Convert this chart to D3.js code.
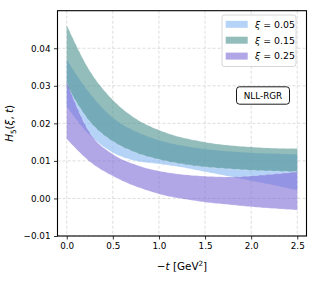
<!DOCTYPE html>
<html>
<head>
<meta charset="utf-8">
<script src="https://cdn.jsdelivr.net/npm/d3@7"></script>
<style>
  body { margin: 0; background: #fff; }
  svg { display: block; font-family: "DejaVu Sans", sans-serif; }
</style>
</head>
<body>
<div id="chart"></div>
<script>
const tValues = [0, 0.25, 0.5, 0.75, 1.0, 1.25, 1.5, 1.75, 2.0, 2.25, 2.5];

// xi = 0.05
const xi005Upper = [0.0370, 0.0280, 0.0215, 0.0178, 0.0155, 0.0141, 0.0132, 0.0126, 0.0122, 0.0120, 0.0118];
const xi005Lower = [0.0245, 0.0168, 0.0122, 0.0100, 0.0092, 0.0083, 0.0071, 0.0059, 0.0047, 0.0035, 0.0022];
// xi = 0.15
const xi015Upper = [0.0462, 0.0340, 0.0262, 0.0212, 0.0182, 0.0162, 0.0150, 0.0142, 0.0137, 0.0134, 0.0133];
const xi015Lower = [0.0300, 0.0205, 0.0152, 0.0122, 0.0104, 0.0092, 0.0084, 0.0079, 0.0075, 0.0073, 0.0071];
// xi = 0.25
const xi025Upper = [0.0310, 0.0175, 0.0118, 0.0090, 0.0073, 0.0064, 0.0059, 0.0057, 0.0060, 0.0065, 0.0071];
const xi025Lower = [0.0158, 0.0098, 0.0060, 0.0032, 0.0012, -0.0001, -0.0010, -0.0016, -0.0022, -0.0027, -0.0031];

const seriesNames = ["ξ = 0.05", "ξ = 0.15", "ξ = 0.25"];
const xiLabels = ["0.05", "0.15", "0.25"];
const seriesColors = ["#84b6f2", "#4b918e", "#7d6ad6"];

const xTicks = [0.0, 0.5, 1.0, 1.5, 2.0, 2.5];
const yTicks = [-0.01, 0.00, 0.01, 0.02, 0.03, 0.04];

const W = 317, H = 282;
const margin = { top: 10.7, right: 10.5, bottom: 46, left: 57.5 };

const svg = d3.select("#chart").append("svg")
    .attr("width", W)
    .attr("height", H);

const x = d3.scaleLinear().domain([-0.1, 2.6]).range([margin.left, W - margin.right]);
const y = d3.scaleLinear().domain([-0.01, 0.05]).range([H - margin.bottom, margin.top]);

// grid
const grid = svg.append("g").attr("class", "grid");
grid.selectAll("line.gx").data(xTicks).join("line")
    .attr("class", "gx")
    .attr("x1", d => x(d)).attr("x2", d => x(d))
    .attr("y1", y.range()[1]).attr("y2", y.range()[0])
    .attr("stroke", "#d4d4d4").attr("stroke-width", 0.8)
    .attr("stroke-dasharray", "3,2");
grid.selectAll("line.gy").data(yTicks).join("line")
    .attr("class", "gy")
    .attr("y1", d => y(d)).attr("y2", d => y(d))
    .attr("x1", x.range()[0]).attr("x2", x.range()[1])
    .attr("stroke", "#d4d4d4").attr("stroke-width", 0.8)
    .attr("stroke-dasharray", "3,2");

// bands
const bands = [
    { upper: xi005Upper, lower: xi005Lower },
    { upper: xi015Upper, lower: xi015Lower },
    { upper: xi025Upper, lower: xi025Lower }
];

const area = d3.area()
    .curve(d3.curveMonotoneX)
    .x(d => x(d.t))
    .y0(d => y(d.lo))
    .y1(d => y(d.hi));

const edge = d3.line().curve(d3.curveMonotoneX).x(d => x(d.t)).y(d => y(d.v));

bands.forEach((b, i) => {
    const pts = tValues.map((t, k) => ({ t: t, hi: b.upper[k], lo: b.lower[k] }));
    svg.append("path")
        .datum(pts)
        .attr("d", area)
        .attr("fill", seriesColors[i])
        .attr("fill-opacity", 0.6);
    // faint edge lines of the bands
    ["hi", "lo"].forEach(key => {
        svg.append("path")
            .datum(pts.map(p => ({ t: p.t, v: p[key] })))
            .attr("d", edge)
            .attr("fill", "none")
            .attr("stroke", "#ffffff")
            .attr("stroke-opacity", 0.35)
            .attr("stroke-width", 0.8)
            .attr("stroke-dasharray", "5,3");
    });
});

// axes
const xAxis = svg.append("g")
    .attr("transform", `translate(0,${H - margin.bottom})`)
    .call(d3.axisBottom(x).tickValues(xTicks).tickFormat(d3.format(".1f")).tickSize(3.5).tickPadding(3.5));
const yAxis = svg.append("g")
    .attr("transform", `translate(${margin.left},0)`)
    .call(d3.axisLeft(y).tickValues(yTicks).tickFormat(d => d < 0 ? "\u2212" + d3.format(".2f")(-d) : d3.format(".2f")(d)).tickSize(3.5).tickPadding(3.5));

[xAxis, yAxis].forEach(a => {
    a.select(".domain").remove();
    a.selectAll(".tick line").attr("stroke", "#000").attr("stroke-width", 0.8);
    a.selectAll(".tick text")
        .attr("fill", "#000")
        .style("font-family", "DejaVu Sans")
        .style("font-size", "8.8px");
});

// frame
svg.append("rect")
    .attr("x", x.range()[0]).attr("y", y.range()[1])
    .attr("width", x.range()[1] - x.range()[0])
    .attr("height", y.range()[0] - y.range()[1])
    .attr("fill", "none").attr("stroke", "#000").attr("stroke-width", 1.1);

// axis labels
const xl = svg.append("text")
    .attr("x", (x.range()[0] + x.range()[1]) / 2)
    .attr("y", 270)
    .attr("text-anchor", "middle")
    .style("font-size", "10.4px");
xl.append("tspan").text("\u2212");
xl.append("tspan").style("font-style", "italic").text("t");
xl.append("tspan").text(" [GeV");
xl.append("tspan").attr("dy", -4).style("font-size", "7.2px").text("2");
xl.append("tspan").attr("dy", 4).text("]");

const yl = svg.append("text")
    .attr("transform", `translate(13,${(y.range()[0] + y.range()[1]) / 2}) rotate(-90)`)
    .attr("text-anchor", "middle")
    .style("font-size", "10.4px");
yl.append("tspan").style("font-style", "italic").text("H");
yl.append("tspan").attr("dy", 2.5).style("font-size", "7.2px").text("5");
yl.append("tspan").attr("dy", -2.5).text("(");
yl.append("tspan").style("font-style", "italic").text("ξ");
yl.append("tspan").text(", ");
yl.append("tspan").style("font-style", "italic").text("t");
yl.append("tspan").text(")");

// legend
const lg = svg.append("g").attr("transform", "translate(222,15)");
lg.append("rect")
    .attr("width", 74).attr("height", 51.5)
    .attr("rx", 2.5)
    .attr("fill", "#fff").attr("fill-opacity", 0.85)
    .attr("stroke", "#cccccc").attr("stroke-width", 0.8);
seriesNames.forEach((name, i) => {
    const row = lg.append("g").attr("transform", `translate(0,${9.3 + i * 15.9})`);
    row.append("rect")
        .attr("x", 3.7).attr("y", -3.5)
        .attr("width", 22).attr("height", 7)
        .attr("fill", seriesColors[i]).attr("fill-opacity", 0.6);
    const t = row.append("text")
        .attr("x", 33).attr("y", 3.3)
        .style("font-size", "9.4px");
    t.append("tspan").style("font-style", "italic").text("ξ");
    t.append("tspan").text(" = " + xiLabels[i]);
});

// NLL-RGR tag
const tag = svg.append("g").attr("transform", "translate(263,95.5)");
tag.append("rect")
    .attr("x", -26.5).attr("y", -8.7)
    .attr("width", 53).attr("height", 17.4)
    .attr("rx", 3)
    .attr("fill", "#fff").attr("stroke", "#000").attr("stroke-width", 0.9);
tag.append("text")
    .attr("text-anchor", "middle")
    .attr("y", 3.2)
    .style("font-size", "8.8px")
    .text("NLL-RGR");
</script>
</body>
</html>
